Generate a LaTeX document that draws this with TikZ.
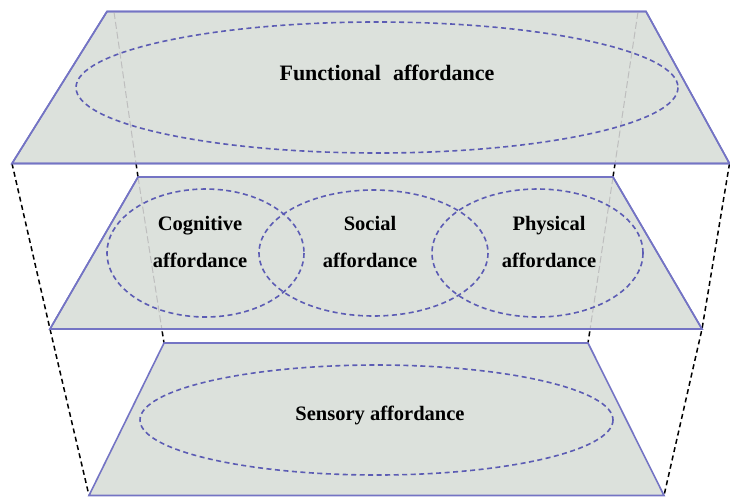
\documentclass[tikz,border=0pt]{standalone}
\usepackage{fontspec}
\setmainfont{Liberation Serif}
\definecolor{layerfill}{HTML}{DCE1DC}
\definecolor{edgeblue}{HTML}{7474C4}
\definecolor{zoneblue}{HTML}{5C5CB4}
\definecolor{hiddengray}{HTML}{BEBEBE}
\begin{document}
\begin{tikzpicture}[x=1pt,y=-1pt,
  layer/.style={fill=layerfill, draw=edgeblue, line width=1.6pt, line join=miter},
  zone/.style={draw=zoneblue, dash pattern=on 5pt off 3.5pt, line width=1.6pt},
  hiddenline/.style={draw=hiddengray, dash pattern=on 7pt off 3pt, line width=1pt},
  guide/.style={draw=black, dash pattern=on 5pt off 3.5pt, line width=1.5pt},
  lbl/.style={font=\bfseries\fontsize{20.5}{37}\selectfont, align=center, inner sep=0pt, anchor=base},
  toplbl/.style={font=\bfseries\fontsize{22}{26}\selectfont, inner sep=0pt, anchor=base}]
\useasboundingbox (0,0) rectangle (730,496);
% corners
\coordinate (TA) at (107,11.5);  \coordinate (TB) at (646,11.5);
\coordinate (TC) at (729.5,163.5); \coordinate (TD) at (12,163.5);
\coordinate (MA) at (138,177);  \coordinate (MB) at (613,177);
\coordinate (MC) at (702,329);  \coordinate (MD) at (50,329);
\coordinate (BA) at (164,343);  \coordinate (BB) at (588,343);
\coordinate (BC) at (664,495.5);  \coordinate (BD) at (89,495.5);
% hidden edge points
\coordinate (HL0) at (114,12); \coordinate (HR0) at (638,12);
% outer guide lines
\draw[guide] (TD) -- (MD) -- (BD);
\draw[guide] (TC) -- (MC) -- (BC);
\draw[guide] (HL0) -- (MA) -- (BA);
\draw[guide] (HR0) -- (MB) -- (BB);
% layers
\draw[layer] (BA) -- (BB) -- (BC) -- (BD) -- cycle;
\draw[layer] (MA) -- (MB) -- (MC) -- (MD) -- cycle;
\draw[layer] (TA) -- (TB) -- (TC) -- (TD) -- cycle;
% hidden lines inside each layer
\begin{scope}
  \clip (TA) -- (TB) -- (TC) -- (TD) -- cycle;
  \draw[hiddenline] (HL0) -- (MA);
  \draw[hiddenline] (HR0) -- (MB);
\end{scope}
\begin{scope}
  \clip (MA) -- (MB) -- (MC) -- (MD) -- cycle;
  \draw[hiddenline] (MA) -- (BA);
  \draw[hiddenline] (MB) -- (BB);
\end{scope}
% redraw layer outlines over hidden lines
\draw[draw=edgeblue, line width=1.6pt] (TA) -- (TB) -- (TC) -- (TD) -- cycle;
\draw[draw=edgeblue, line width=1.6pt] (MA) -- (MB) -- (MC) -- (MD) -- cycle;
% zones
\draw[zone] (377,87.5) ellipse [x radius=301, y radius=65.5];
\draw[zone] (205.5,253) ellipse [x radius=98.5, y radius=64];
\draw[zone] (373.5,253) ellipse [x radius=114.5, y radius=63];
\draw[zone] (537.5,253) ellipse [x radius=105.5, y radius=64];
\draw[zone] (376.5,420) ellipse [x radius=236.5, y radius=55];
% labels
\node[toplbl] (functional) at (387,80) {Functional\hspace{12pt}affordance};
\node[lbl] (cognitive) at (200,267) {Cognitive\\affordance};
\node[lbl] (social) at (370,267) {Social\\affordance};
\node[lbl] (physical) at (549,267) {Physical\\affordance};
\node[lbl] (sensory) at (380,420) {Sensory affordance};
\end{tikzpicture}
\end{document}
